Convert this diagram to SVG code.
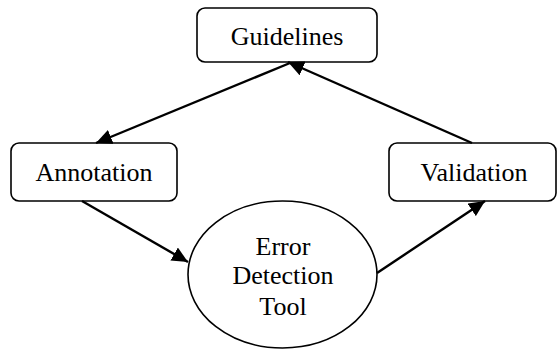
<svg xmlns="http://www.w3.org/2000/svg" width="557" height="349" viewBox="0 0 557 349">
<defs>
<style>
.box{fill:#fff;stroke:#000;stroke-width:1.6}
.lbl{font-family:'Liberation Serif','Times New Roman',serif;font-size:26px;fill:#000;text-anchor:middle}
.edge{stroke:#000;stroke-width:2.4;fill:none;marker-end:url(#ah)}
</style>
<marker id="ah" markerUnits="userSpaceOnUse" markerWidth="17" markerHeight="15" viewBox="0 0 17 15" refX="16" refY="7.5" orient="auto">
<path d="M0,0 L16,7.5 L0,15 Z" fill="#000"/>
</marker>
</defs>
<rect width="557" height="349" fill="#fff"/>
<g id="guidelines">
<rect class="box" x="197" y="8" width="180" height="54" rx="8"/>
<text class="lbl" x="287" y="45">Guidelines</text>
</g>
<g id="annotation">
<rect class="box" x="11" y="143" width="166" height="58" rx="8"/>
<text class="lbl" x="94" y="181">Annotation</text>
</g>
<g id="validation">
<rect class="box" x="389" y="143" width="167" height="58" rx="8"/>
<text class="lbl" x="474" y="181">Validation</text>
</g>
<g id="errortool">
<ellipse class="box" cx="282.5" cy="274.5" rx="94.5" ry="73.5"/>
<text class="lbl" x="283" y="255">Error</text>
<text class="lbl" x="283" y="284">Detection</text>
<text class="lbl" x="283" y="315">Tool</text>
</g>
<g id="connectors">
<line class="edge" x1="290" y1="63" x2="96" y2="143"/>
<line class="edge" x1="82" y1="201" x2="188" y2="262"/>
<line class="edge" x1="377" y1="273" x2="485" y2="201"/>
<line class="edge" x1="472" y1="143" x2="288" y2="62"/>
</g>
</svg>
